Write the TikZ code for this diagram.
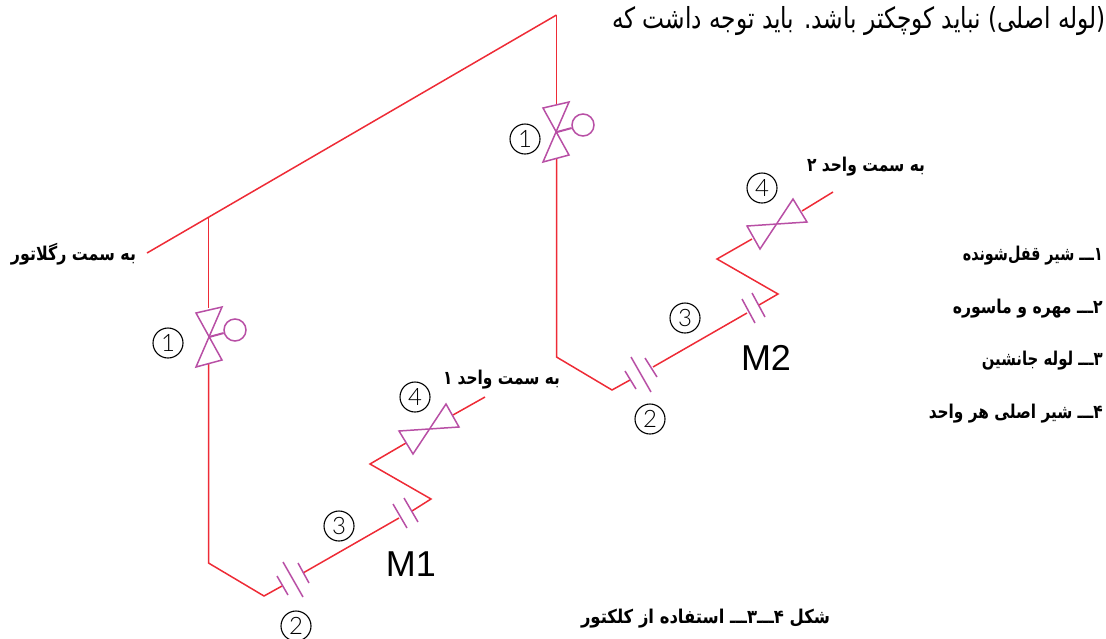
\documentclass[tikz,border=0pt]{standalone}
\usepackage{graphicx}
\usepackage{fontspec}
\setmainfont{Liberation Sans}
\TeXXeTstate=1
\newfontfamily\arabicfont[Script=Arabic]{DejaVu Sans}
\newfontfamily\cadfont{Lato Light}
\newcommand{\bfa}{\arabicfont\bfseries}
\definecolor{piperedc}{HTML}{EE2B36}
\definecolor{valvec}{HTML}{B84FA5}
\tikzset{
  pipe/.style={draw=piperedc,line width=1.5pt,line join=miter},
  valve/.style={draw=valvec,line width=1.5pt,line join=miter},
  num/.style={circle,draw=black,line width=1.1pt,minimum size=30pt,inner sep=0pt,font=\cadfont\fontsize{24}{24}\selectfont},
  lbl/.style={inner sep=0pt,font=\fontsize{19}{22}\selectfont},
  mlabel/.style={inner sep=0pt,font=\fontsize{36}{40}\selectfont}
}
\begin{document}
\begin{tikzpicture}[x=1pt,y=-1pt]
\useasboundingbox (0,0) rectangle (1106,638);
% main pipe points
\coordinate (inlet) at (147,253);
\coordinate (tee) at (208.5,217);
\coordinate (apex) at (556.5,15);
\draw[pipe] (inlet) -- (apex);
% --- branch 1 ---
\coordinate (aA) at (208.5,308);
\coordinate (aB) at (208.5,364);
\coordinate (aC) at (208.5,563);
\coordinate (aD) at (264,596);
\coordinate (aE) at (282,586);
\coordinate (aF) at (303,573);
\coordinate (aG) at (399,518);
\coordinate (aH) at (412,511);
\coordinate (aI) at (431,499);
\coordinate (aJ) at (370,464);
\coordinate (aK) at (406,443);
\coordinate (aL) at (453,415);
\coordinate (aM) at (485,397);
\draw[pipe] (tee) -- (aA);
\draw[pipe] (aB) -- (aC) -- (aD) -- (aE);
\draw[pipe] (aF) -- (aG);
\draw[pipe] (aH) -- (aI) -- (aJ) -- (aK);
\draw[pipe] (aL) -- (aM);
% --- branch 2 ---
\coordinate (bA) at (556.5,104);
\coordinate (bB) at (556.5,159);
\coordinate (bC) at (556.5,357);
\coordinate (bD) at (612,390);
\coordinate (bE) at (630,380);
\coordinate (bF) at (653,367);
\coordinate (bG) at (747,313);
\coordinate (bH) at (759,305);
\coordinate (bI) at (778,294);
\coordinate (bJ) at (717,259);
\coordinate (bK) at (752,239);
\coordinate (bL) at (802,211);
\coordinate (bM) at (833,192);
\draw[pipe] (apex) -- (bA);
\draw[pipe] (bB) -- (bC) -- (bD) -- (bE);
\draw[pipe] (bF) -- (bG);
\draw[pipe] (bH) -- (bI) -- (bJ) -- (bK);
\draw[pipe] (bL) -- (bM);
% lock valves
\draw[valve] (196,313) -- (222,307) -- (196,367) -- (222,360) -- cycle;
\node[circle,valve,minimum size=22pt,inner sep=0pt] (hA) at (235,330) {};
\coordinate (cA) at (209,337);
\draw[valve,line width=2pt] (cA) -- (hA);
\draw[valve] (543,108) -- (569,102) -- (543,162) -- (569,155) -- cycle;
\node[circle,valve,minimum size=22pt,inner sep=0pt] (hB) at (583,125) {};
\coordinate (cB) at (557,132);
\draw[valve,line width=2pt] (cB) -- (hB);
% main valves
\draw[valve] (399,431) -- (459,427) -- (446,404) -- (413,454) -- cycle;
\draw[valve] (747,226) -- (807,222) -- (793,199) -- (760,249) -- cycle;
% couplings
\draw[valve] (277,576) -- (288,595) (283,562) -- (303,597) (298,563) -- (309,583);
\draw[valve] (393,504) -- (407,528) (404,498) -- (418,522);
\draw[valve] (625,371) -- (636,389) (631,357) -- (651,392) (645,358) -- (657,377);
\draw[valve] (742,299) -- (755,323) (752,293) -- (765,317);
% numbered circles
\node[num] (n1a) at (168,343) {1};
\node[num] (n1b) at (525,139) {1};
\node[num] (n2a) at (296,626) {2};
\node[num] (n2b) at (650,419) {2};
\node[num] (n3a) at (339,526) {3};
\node[num] (n3b) at (685,318) {3};
\node[num] (n4a) at (415,397) {4};
\node[num] (n4b) at (762,188) {4};
% M labels
\node[mlabel] (m1) at (411,564) {M1};
\node[mlabel] (m2) at (766,358) {M2};
% texts
\node[lbl,font=\fontsize{29}{32}\selectfont] (top) at (859,21) {\resizebox{494pt}{\height}{\arabicfont\beginR (لوله اصلی) نباید کوچکتر باشد. باید توجه داشت که\endR}};
\node[lbl] (t1) at (73.5,254) {\resizebox{125pt}{\height}{\bfa\beginR به سمت رگلاتور\endR}};
\node[lbl] (t2) at (501.5,380) {\resizebox{117pt}{\height}{\bfa\beginR به سمت واحد ۱\endR}};
\node[lbl] (t3) at (866,167) {\resizebox{118pt}{\height}{\bfa\beginR به سمت واحد ۲\endR}};
\node[lbl,anchor=east] (l1) at (1103,256) {\resizebox{140pt}{\height}{\bfa\beginR ۱ـــ شیر قفل‌شونده\endR}};
\node[lbl,anchor=east] (l2) at (1103,309) {\resizebox{150pt}{\height}{\bfa\beginR ۲ـــ مهره و ماسوره\endR}};
\node[lbl,anchor=east] (l3) at (1103,361) {\resizebox{121pt}{\height}{\bfa\beginR ۳ـــ لوله جانشین\endR}};
\node[lbl,anchor=east] (l4) at (1103,414) {\resizebox{174pt}{\height}{\bfa\beginR ۴ـــ شیر اصلی هر واحد\endR}};
\node[lbl] (cap) at (705.5,619) {\resizebox{249pt}{\height}{\bfa\beginR شکل ۴ـــ۳ـــ استفاده از کلکتور\endR}};
\end{tikzpicture}
\end{document}
